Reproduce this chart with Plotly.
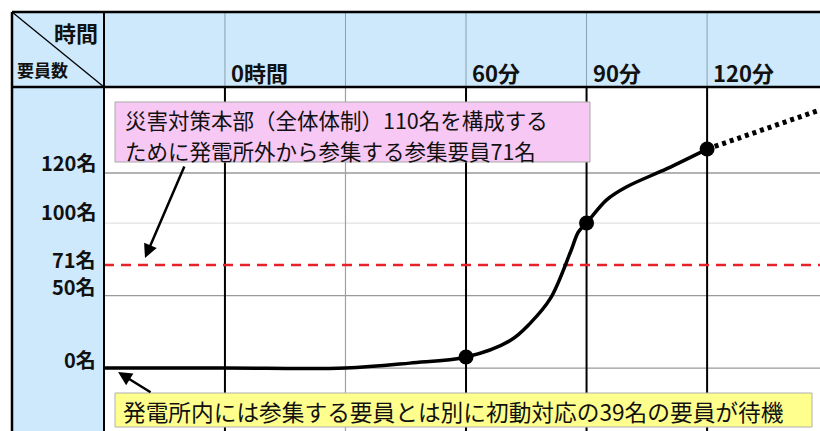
import plotly.graph_objects as go

# ---------------- data ----------------
time_labels = ["0時間", "60分", "90分", "120分"]
time_label_pos = [0, 60, 90, 120]           # minutes
thick_vlines = [0, 60, 90, 120]             # minutes
thin_vlines = [30]

count_labels = ["0名", "50名", "71名", "100名", "120名"]
count_label_pos = [0, 50, 71, 100, 134.5]
count_label_shift = [9, 9, 6, 12, 11]
grid_hlines = [0, 50, 100, 134.5]
faint_hlines = [100]

curve_min = [-30, 0, 30, 46, 60, 71, 76, 81, 86, 88, 90, 95, 100, 110, 120]
curve_val = [0, 0, 0, 3.4, 7.6, 19, 31, 48, 80, 94, 100, 116, 125, 137.5, 151]
future_min = [120, 148.1]
future_val = [151, 178]
dot_min = [60, 90, 120]
dot_val = [7.6, 100, 151]
target_val = 71

note_outside = ["災害対策本部（全体体制）110名を構成する", "ために発電所外から参集する参集要員71名"]
note_inside = "発電所内には参集する要員とは別に初動対応の39名の要員が待機"
corner_top = "時間"
corner_bottom = "要員数"

# ---------------- layout helpers ----------------
W, H = 820, 431
L, T = 104, 87
PW, PH = W - L, H - T
XR = [-30.1, 148.1]
YR = [-43.4, 193.8]


def xp(px):
    return (px - L) / PW


def yp(py):
    return (H - py) / PH


FONT = "Noto Sans CJK JP"
BLUE = "#cde9fb"
INK = "#111111"

fig = go.Figure()

# target dashed line
fig.add_trace(go.Scatter(x=XR, y=[target_val, target_val], mode="lines",
                         line=dict(color="#e5222a", width=2.5, dash="10px,7px"),
                         hoverinfo="skip", showlegend=False))
# main curve
fig.add_trace(go.Scatter(x=curve_min, y=curve_val, mode="lines",
                         line=dict(color="black", width=3.5, shape="spline", smoothing=1.0),
                         hoverinfo="skip", showlegend=False))
# future dotted
fig.add_trace(go.Scatter(x=future_min, y=future_val, mode="lines",
                         line=dict(color="black", width=5, dash="4px,4px"),
                         hoverinfo="skip", showlegend=False))
# dots
fig.add_trace(go.Scatter(x=dot_min, y=dot_val, mode="markers",
                         marker=dict(color="black", size=15),
                         hoverinfo="skip", showlegend=False))

shapes = []
# header row and left column backgrounds
shapes.append(dict(type="rect", xref="paper", yref="paper", x0=xp(12), x1=xp(W + 5),
                   y0=yp(87), y1=yp(12), fillcolor=BLUE, line=dict(width=0), layer="below"))
shapes.append(dict(type="rect", xref="paper", yref="paper", x0=xp(12), x1=xp(104),
                   y0=yp(H + 5), y1=yp(12), fillcolor=BLUE, line=dict(width=0), layer="below"))

# horizontal grid lines
for v in grid_hlines:
    col = "#e2e2e2" if v in faint_hlines else "#9a9a9a"
    shapes.append(dict(type="line", xref="paper", yref="y", x0=0, x1=1, y0=v, y1=v,
                       line=dict(color=col, width=1.3), layer="below"))
# header separators (thin grey)
for m in thin_vlines + thick_vlines:
    shapes.append(dict(type="line", xref="x", yref="paper", x0=m, x1=m, y0=1, y1=yp(12),
                       line=dict(color="#8aa0ae", width=1)))
# body verticals
for m in thin_vlines:
    shapes.append(dict(type="line", xref="x", yref="paper", x0=m, x1=m, y0=0, y1=1,
                       line=dict(color="#a0a0a0", width=1.2), layer="below"))
for m in thick_vlines:
    shapes.append(dict(type="line", xref="x", yref="paper", x0=m, x1=m, y0=0, y1=1,
                       line=dict(color="black", width=2), layer="below"))
# frame lines
shapes.append(dict(type="line", xref="paper", yref="paper", x0=xp(12), x1=xp(W + 5), y0=yp(12), y1=yp(12),
                   line=dict(color="black", width=2.5)))
shapes.append(dict(type="line", xref="paper", yref="paper", x0=xp(12), x1=xp(W + 5), y0=1, y1=1,
                   line=dict(color="black", width=2.5)))
shapes.append(dict(type="line", xref="paper", yref="paper", x0=xp(12), x1=xp(12), y0=yp(H + 5), y1=yp(12),
                   line=dict(color="black", width=2.5)))
shapes.append(dict(type="line", xref="paper", yref="paper", x0=0, x1=0, y0=yp(H + 5), y1=yp(12),
                   line=dict(color="black", width=2)))
# corner diagonal
shapes.append(dict(type="line", xref="paper", yref="paper", x0=xp(12), x1=xp(104), y0=yp(12), y1=yp(87),
                   line=dict(color="black", width=1.3)))
# note boxes
shapes.append(dict(type="rect", xref="paper", yref="paper", x0=xp(115), x1=xp(590), y0=yp(162), y1=yp(102),
                   fillcolor="#f8c8f4", line=dict(color="#a8a8a8", width=1)))
shapes.append(dict(type="rect", xref="paper", yref="paper", x0=xp(115), x1=xp(812), y0=yp(427), y1=yp(393),
                   fillcolor="#ffff8e", line=dict(color="#b0b0b0", width=1)))

ann = []
# header labels
for lab, m in zip(time_labels, time_label_pos):
    ann.append(dict(text=lab, x=m, xref="x", y=yp(72), yref="paper", xanchor="left", yanchor="middle",
                    xshift=4, showarrow=False, font=dict(family=FONT, size=22, color=INK, weight="bold")))
# count labels
for lab, v, s in zip(count_labels, count_label_pos, count_label_shift):
    ann.append(dict(text=lab, x=xp(98), xref="paper", y=v, yref="y", xanchor="right", yanchor="middle",
                    yshift=s, showarrow=False, font=dict(family=FONT, size=20, color=INK, weight="bold")))
# corner labels
ann.append(dict(text=corner_top, x=xp(100), xref="paper", y=yp(32), yref="paper", xanchor="right",
                yanchor="middle", showarrow=False,
                font=dict(family=FONT, size=22, color=INK, weight="bold")))
ann.append(dict(text=corner_bottom, x=xp(15), xref="paper", y=yp(70), yref="paper", xanchor="left",
                yanchor="middle", showarrow=False,
                font=dict(family=FONT, size=17, color=INK, weight="bold")))
# note texts
for line, cy in zip(note_outside, [119, 150]):
    ann.append(dict(text=line, x=xp(123), xref="paper", y=yp(cy), yref="paper", xanchor="left",
                    yanchor="middle", showarrow=False, font=dict(family=FONT, size=21.5, color=INK)))
ann.append(dict(text=note_inside, x=xp(121), xref="paper", y=yp(411), yref="paper", xanchor="left",
                yanchor="middle", showarrow=False, font=dict(family=FONT, size=22.7, color=INK)))
# arrows
ann.append(dict(text="", x=-19.9, xref="x", y=target_val + 4.9, yref="y", showarrow=True,
                ax=40, ay=-93, arrowhead=2, arrowsize=1.1, arrowwidth=2.5, arrowcolor="black"))
ann.append(dict(text="", x=-26.6, xref="x", y=-2.8, yref="y", showarrow=True,
                ax=34, ay=21, arrowhead=2, arrowsize=1.1, arrowwidth=2.5, arrowcolor="black"))

fig.update_layout(
    width=W, height=H,
    margin=dict(l=L, r=0, t=T, b=0, pad=0),
    paper_bgcolor="white", plot_bgcolor="rgba(0,0,0,0)",
    xaxis=dict(range=XR, showgrid=False, zeroline=False, showticklabels=False, ticks="", fixedrange=True),
    yaxis=dict(range=YR, showgrid=False, zeroline=False, showticklabels=False, ticks="", fixedrange=True),
    shapes=shapes, annotations=ann, showlegend=False,
)

fig.write_html("out.html")
